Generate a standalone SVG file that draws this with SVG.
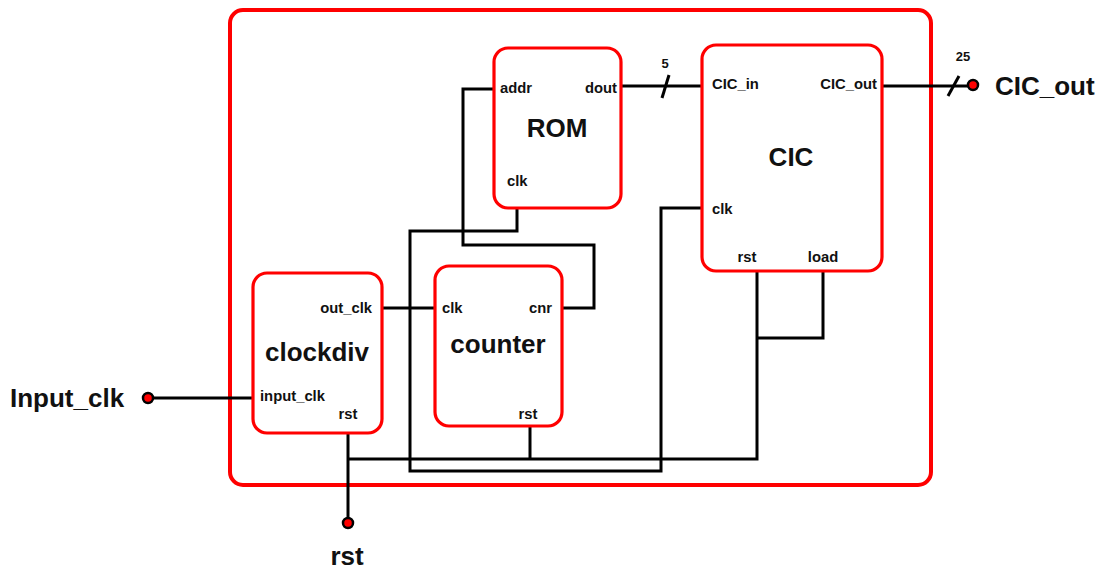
<svg xmlns="http://www.w3.org/2000/svg" width="1103" height="569" viewBox="0 0 1103 569">
<style>
.box{fill:#fff;stroke:#ff0000;stroke-width:3.2}
.outer{fill:#fff;stroke:#ff0000;stroke-width:4}
.w{fill:none;stroke:#000;stroke-width:3;stroke-linejoin:miter}
.p{font-family:"Liberation Sans",Arial,sans-serif;font-weight:bold;font-size:14.8px;fill:#111}
.t{font-family:"Liberation Sans",Arial,sans-serif;font-weight:bold;font-size:26px;fill:#111}
.pin{fill:#ff0000;stroke:#000;stroke-width:2.5}
</style>
<rect class="outer" x="230" y="10" width="701" height="475" rx="13"/>
<g id="connectors">
<path class="w" d="M621 86H702"/>
<path class="w" d="M662 98L669 75"/>
<path class="w" d="M882 86H968"/>
<path class="w" d="M948 96L959 76"/>
<path class="w" d="M494 89H463V245H594V308H562"/>
<path class="w" d="M517 208V231H410V471H661V208H702"/>
<path class="w" d="M382 308H435"/>
<path class="w" d="M348 433V518"/>
<path class="w" d="M348 459H757V271"/>
<path class="w" d="M530 426V459"/>
<path class="w" d="M823 271V338H757"/>
<path class="w" d="M153 398H253"/>
</g>
<g id="ROM">
<rect class="box" x="494" y="48" width="127" height="160" rx="14"/>
<text class="p" x="500" y="93">addr</text>
<text class="p" x="617" y="93" text-anchor="end">dout</text>
<text class="p" x="507" y="186">clk</text>
<text class="t" x="557" y="137" text-anchor="middle">ROM</text>
</g>
<g id="CIC">
<rect class="box" x="702" y="45" width="180" height="226" rx="14"/>
<text class="p" x="712" y="89">CIC_in</text>
<text class="p" x="877" y="89" text-anchor="end">CIC_out</text>
<text class="t" x="791" y="166" text-anchor="middle">CIC</text>
<text class="p" x="712" y="214">clk</text>
<text class="p" x="747" y="262" text-anchor="middle">rst</text>
<text class="p" x="823" y="262" text-anchor="middle">load</text>
</g>
<g id="clockdiv">
<rect class="box" x="253" y="273" width="129" height="160" rx="14"/>
<text class="p" x="372" y="313" text-anchor="end">out_clk</text>
<text class="t" x="317" y="361" text-anchor="middle">clockdiv</text>
<text class="p" x="260" y="401">input_clk</text>
<text class="p" x="348" y="419" text-anchor="middle">rst</text>
</g>
<g id="counter">
<rect class="box" x="435" y="266" width="127" height="160" rx="14"/>
<text class="p" x="442" y="313">clk</text>
<text class="p" x="552" y="313" text-anchor="end">cnr</text>
<text class="t" x="498" y="353" text-anchor="middle">counter</text>
<text class="p" x="528" y="419" text-anchor="middle">rst</text>
</g>
<g id="bus_labels">
<text class="p" x="665" y="68" text-anchor="middle" style="font-size:13px">5</text>
<text class="p" x="963" y="61" text-anchor="middle" style="font-size:13px">25</text>
</g>
<g id="Input_clk">
<circle class="pin" cx="148" cy="398" r="5"/>
<text class="t" x="10" y="407">Input_clk</text>
</g>
<g id="CIC_out_pin">
<circle class="pin" cx="973" cy="85" r="5"/>
<text class="t" x="995" y="95">CIC_out</text>
</g>
<g id="rst_pin">
<circle class="pin" cx="348" cy="523" r="5"/>
<text class="t" x="347" y="565" text-anchor="middle">rst</text>
</g>
</svg>
